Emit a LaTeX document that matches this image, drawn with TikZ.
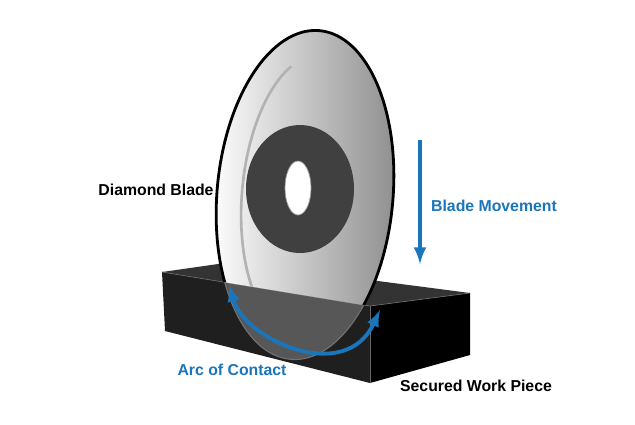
\documentclass[tikz,border=0pt]{standalone}
\usepackage{fontspec}
\setmainfont{Liberation Sans}
\usetikzlibrary{positioning}
\definecolor{arcblue}{HTML}{1B75BB}
\tikzset{
  lbl/.style={font=\bfseries\fontsize{9}{11}\selectfont},
  bluelbl/.style={lbl, text=arcblue},
  bluearrow/.style={draw=arcblue, line width=2.2pt, -latex}
}
\begin{document}
\begin{tikzpicture}[x=0.02cm, y=-0.02cm]
  \useasboundingbox (0,0) rectangle (635,424);
  % work piece
  \fill[black!80] (162,272) -- (232,262) -- (470,293) -- (370,306) -- cycle;
  \fill[black!88] (162,272) -- (370,306) -- (370,383) -- (165,331) -- cycle;
  \fill[black] (370,306) -- (470,293) -- (470,355) -- (370,383) -- cycle;
  \draw[white!40!black, line width=0.4pt] (162,272) -- (370,306) -- (470,293);
  \draw[white!40!black, line width=0.4pt] (370,306) -- (370,383);
  % blade, upper part
  \begin{scope}
    \clip (0,0) -- (635,0) -- (635,300) -- (370,306) -- (162,272) -- (0,272) -- cycle;
    \shade[left color=white, right color=black!45, rotate around={-5:(305,195)}]
      (305,195) ellipse (88 and 165);
    \draw[black, line width=1.6pt, rotate around={-5:(305,195)}] (305,195) ellipse (88 and 165);
    \draw[black!30, line width=1.5pt, rotate around={-5:(305,195)}]
      (242,195) arc[start angle=180, end angle=92, x radius=66, y radius=140];
    \draw[black!30, line width=1.5pt, rotate around={-5:(305,195)}]
      (242,195) arc[start angle=180, end angle=245, x radius=66, y radius=140];
    \fill[black!75] (300,189) ellipse (54 and 64);
    \fill[white] (298,188) ellipse (13 and 27);
    \draw[black!40] (298,188) ellipse (13 and 27);
  \end{scope}
  % blade, inside the work piece
  \begin{scope}
    \clip (162,272) -- (370,306) -- (370,383) -- (165,331) -- cycle;
    \fill[white, opacity=0.25, rotate around={-5:(305,195)}] (305,195) ellipse (88 and 165);
    \draw[black!55, line width=0.6pt, rotate around={-5:(305,195)}] (305,195) ellipse (88 and 165);
  \end{scope}
  % labels
  \node[lbl] (blade) at (156,190) {Diamond Blade};
  \node[bluelbl] (move) at (494,206) {Blade Movement};
  \node[bluelbl] (arc) at (232,370) {Arc of Contact};
  \node[lbl] (piece) at (476,386) {Secured Work Piece};
  % arrows
  \coordinate (m1) at (420,140);
  \coordinate (m2) at (420,264);
  \draw[bluearrow] (m1) -- (m2);
  \coordinate (c1) at (229,285);
  \coordinate (c2) at (380,310);
  \draw[bluearrow, latex-latex] (c1) .. controls (245,340) and (345,385) .. (c2);
\end{tikzpicture}
\end{document}
